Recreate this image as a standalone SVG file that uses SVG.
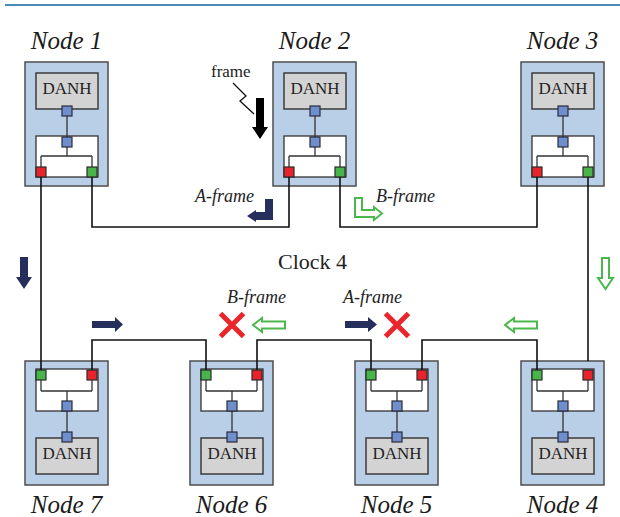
<svg xmlns="http://www.w3.org/2000/svg" xmlns:xlink="http://www.w3.org/1999/xlink" width="620" height="517" viewBox="0 0 620 517">
<style>
.box{fill:#b9cfe7;stroke:#4d4d4d;stroke-width:1.5}
.danh{fill:#d3d3d3;stroke:#3d3d3d;stroke-width:1.5}
.inner{fill:#fff;stroke:#333;stroke-width:1.3}
.ln{fill:none;stroke:#333;stroke-width:1.3}
.sq{fill:#6f8fcc;stroke:#2a2a3a;stroke-width:1.2}
.red{fill:#e8232b;stroke:#2a2a2a;stroke-width:1.2}
.grn{fill:#47b54a;stroke:#2a2a2a;stroke-width:1.2}
.dt{font-family:"Liberation Serif",serif;font-size:17px;fill:#222;text-anchor:middle}
.lbl{font-family:"Liberation Serif",serif;font-style:italic;font-size:25px;fill:#1a1a1a;text-anchor:middle}
.it{font-family:"Liberation Serif",serif;font-style:italic;font-size:18px;fill:#222}
.conn{fill:none;stroke:#111;stroke-width:1.6}
.navy{fill:#262f5c}
.gout{fill:#fff;stroke:#4cb84c;stroke-width:2}
.x{stroke:#e8262b;stroke-width:5;fill:none}
</style>
<defs>
<g id="topNode">
<rect class="box" x="0" y="0" width="83" height="124"/>
<rect class="danh" x="11" y="11" width="62" height="36"/>
<text class="dt" x="42" y="32">DANH</text>
<rect class="inner" x="11" y="74" width="62" height="41"/>
<path class="ln" d="M42,54V75M42,85V94M16,94H67M16,94V105M67,94V105"/>
<rect class="sq" x="37" y="44" width="10" height="10"/>
<rect class="sq" x="37" y="75" width="10" height="10"/>
<rect class="red" x="11" y="105" width="10" height="10"/>
<rect class="grn" x="62" y="105" width="10" height="10"/>
</g>
<g id="botNode">
<rect class="box" x="0" y="0" width="83" height="124"/>
<rect class="inner" x="11" y="8" width="62" height="42"/>
<path class="ln" d="M16,19V30M67,19V30M16,30H67M42,30V40M42,50V71"/>
<rect class="grn" x="11" y="9" width="10" height="10"/>
<rect class="red" x="62" y="9" width="10" height="10"/>
<rect class="sq" x="37" y="40" width="10" height="10"/>
<rect class="danh" x="11" y="77" width="62" height="36"/>
<rect class="sq" x="37" y="71" width="10" height="10"/>
<text class="dt" x="42" y="98">DANH</text>
</g>
</defs>
<line x1="5" y1="5" x2="620" y2="5" stroke="#4a8ab8" stroke-width="2"/>
<g id="node1"><use xlink:href="#topNode" x="25" y="62"/><text class="lbl" x="66.5" y="49">Node 1</text></g>
<g id="node2"><use xlink:href="#topNode" x="273" y="62"/><text class="lbl" x="314.5" y="49">Node 2</text></g>
<g id="node3"><use xlink:href="#topNode" x="521" y="62"/><text class="lbl" x="562.5" y="49">Node 3</text></g>
<g id="node7"><use xlink:href="#botNode" x="25" y="361"/><text class="lbl" x="66.5" y="513">Node 7</text></g>
<g id="node6"><use xlink:href="#botNode" x="190" y="361"/><text class="lbl" x="231.5" y="513">Node 6</text></g>
<g id="node5"><use xlink:href="#botNode" x="355" y="361"/><text class="lbl" x="396.5" y="513">Node 5</text></g>
<g id="node4"><use xlink:href="#botNode" x="521" y="361"/><text class="lbl" x="562.5" y="513">Node 4</text></g>
<g id="connectors">
<path class="conn" d="M41,177V370"/>
<path class="conn" d="M92,177V227H289V177"/>
<path class="conn" d="M340,177V227H537V177"/>
<path class="conn" d="M588,177V361"/>
<path class="conn" d="M92,370V340H206V370"/>
<path class="conn" d="M257,370V340H371V370"/>
<path class="conn" d="M422,370V340H537V370"/>
</g>
<g id="annotations">
<text x="211" y="77" font-family="Liberation Serif, serif" font-size="17" fill="#222">frame</text>
<polyline points="233,83 246,96 240,101 254,114" fill="none" stroke="#111" stroke-width="1.3"/>
<polygon points="256,98 264,98 264,127 268,127 260,139 252,127 256,127" fill="#000"/>
<text class="it" x="195" y="202">A-frame</text>
<polygon class="navy" points="265,199 273,199 273,220 256,220 256,222 247,216 256,210 256,212 265,212"/>
<text class="it" x="376" y="202">B-frame</text>
<polygon class="gout" points="355,198 362,198 362,210 374,210 374,207 382,213.5 374,220 374,217 355,217"/>
<text x="278" y="269" font-family="Liberation Serif, serif" font-size="22" fill="#222">Clock 4</text>
<polygon class="navy" points="20,257 28,257 28,277 32,277 24,289 16,277 20,277"/>
<polygon class="gout" points="602,258 609,258 609,278 613,278 605.5,289 598,278 602,278"/>
<polygon class="navy" points="92,321 115,321 115,317 123,324.5 115,332 115,328 92,328"/>
<polygon class="navy" points="345,321 368,321 368,317 377,324.5 368,332 368,328 345,328"/>
<text class="it" x="227" y="303">B-frame</text>
<text class="it" x="343" y="303">A-frame</text>
<path class="x" d="M220.5,313.5L243.5,336.5M243.5,313.5L220.5,336.5"/>
<path class="x" d="M385.5,313.5L408.5,336.5M408.5,313.5L385.5,336.5"/>
<polygon class="gout" points="285,321.5 262,321.5 262,318 253,325 262,332 262,328.5 285,328.5"/>
<polygon class="gout" points="537,321.5 514,321.5 514,318 505,325 514,332 514,328.5 537,328.5"/>
</g>
</svg>
